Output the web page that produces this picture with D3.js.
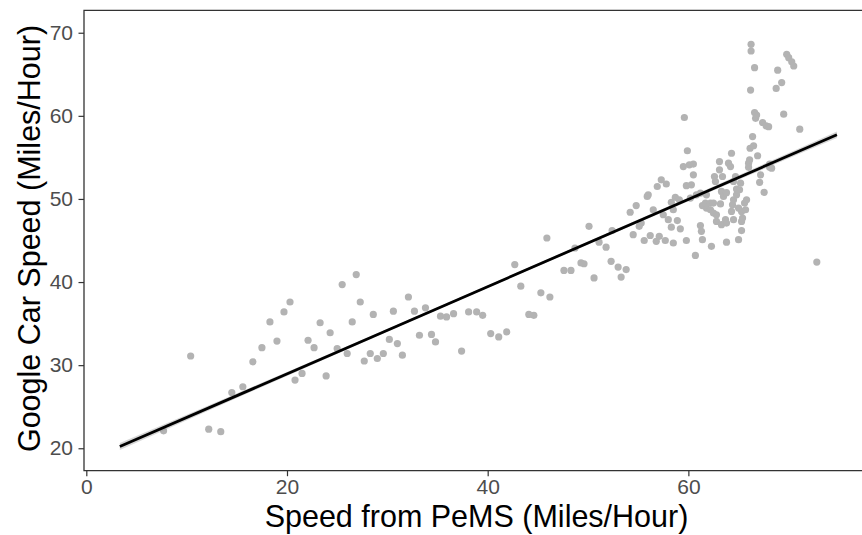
<!DOCTYPE html>
<html>
<head>
<meta charset="utf-8">
<script src="https://cdn.jsdelivr.net/npm/d3@7/dist/d3.min.js"></script>
<style>
  html, body { margin: 0; padding: 0; background: #ffffff; }
  svg { display: block; }
  text { font-family: "Liberation Sans", Arial, Helvetica, sans-serif; }
</style>
</head>
<body>
<svg id="chart" width="862" height="535"></svg>
<script>
// PeMS loop-detector speed vs. speed measured by the Google car (mph)
const pemsSpeed = [
  7.7, 10.4, 12.2, 13.4, 14.5, 15.6, 16.6, 17.5, 18.3, 19.0,
  19.7, 20.3, 20.8, 21.5, 22.1, 22.7, 23.3, 23.9, 24.3, 25.0,
  25.5, 26.0, 26.5, 26.9, 27.3, 27.7, 28.3, 28.6, 29.0, 29.6,
  30.2, 30.6, 31.0, 31.5, 32.1, 32.7, 33.2, 33.8, 34.4, 34.8,
  35.3, 35.9, 36.6, 37.4, 38.1, 38.9, 39.5, 40.3, 41.1, 41.9,
  42.7, 43.3, 44.1, 44.6, 45.3, 45.9, 46.2,
  47.6, 48.3, 48.7, 49.3, 49.6, 50.1, 50.6, 51.1, 51.8, 52.3,
  52.4, 53.0, 53.3, 53.8, 54.2, 54.5, 54.8, 55.1, 55.3, 55.6,
  55.9, 56.0, 56.2, 56.5, 56.8, 56.9, 57.1, 57.3, 57.5, 57.7,
  57.8, 58.0, 58.3, 58.3, 58.5, 58.5, 58.7, 58.9, 59.1, 59.2,
  59.5, 59.6, 59.8, 59.8, 59.9, 60.1, 60.2, 60.3, 60.5, 60.5,
  60.7, 60.8,
  61.2, 61.3, 61.4, 61.4, 61.2, 61.8, 61.8, 61.7, 62.2, 62.5,
  62.2, 62.5, 62.3, 62.6, 62.7, 62.8, 62.8, 63.1, 63.1, 63.4,
  63.3, 63.5, 63.2, 63.3, 63.7, 63.8, 63.8, 63.8, 64.0, 64.2,
  64.3, 64.3, 64.4, 64.5, 64.5, 64.5, 64.7, 64.8, 64.8, 65.0,
  65.0, 65.1, 65.2, 65.3, 65.3, 65.4, 65.3, 65.6, 65.7, 65.8,
  66.0, 66.1, 66.0, 66.15, 66.5, 66.4, 66.7, 66.8, 66.6, 66.2,
  66.6, 66.25, 66.25, 66.9, 67.1, 67.2, 67.55, 67.4, 67.75, 68.0,
  68.1, 68.1, 68.3, 68.75, 68.9, 69.3, 69.5, 69.8, 70.0, 70.3,
  70.5, 71.1, 72.8
];
const googleSpeed = [
  22.1, 31.1, 22.3, 22.0, 26.7, 27.4, 30.4, 32.1, 35.2, 32.9,
  36.4, 37.6, 28.2, 29.0, 33.0, 32.1, 35.1, 28.7, 33.9, 32.0,
  39.7, 31.4, 35.2, 40.9, 37.6, 30.5, 31.4, 36.1, 30.8, 31.4,
  33.1, 36.5, 32.6, 31.2, 38.2, 36.5, 33.6, 36.9, 33.7, 32.8,
  35.9, 35.8, 36.2, 31.7, 36.4, 36.4, 36.0, 33.8, 33.4, 34.0,
  42.1, 39.5, 36.1, 36.0, 38.7, 45.3, 38.2,
  41.4, 41.4, 44.1, 42.3, 42.2, 46.7, 40.5, 44.8, 44.2, 42.5,
  46.2, 41.8, 40.6, 41.5, 48.4, 45.7, 49.2, 46.7, 47.1, 45.0,
  50.3, 50.5, 45.6, 48.7, 44.9, 51.5, 45.5, 52.3, 48.1, 45.0,
  51.8, 47.5, 46.6, 49.6, 44.7, 48.7, 50.2, 47.4, 49.9, 46.4,
  53.9, 59.8, 51.6, 45.0, 55.8, 54.1, 50.1, 51.7, 54.2, 52.9,
  43.2, 50.5,
  46.8, 46.1, 45.1, 49.2, 50.7, 50.5, 48.9, 49.5, 49.5, 49.5,
  48.7, 48.3, 44.3, 52.7, 52.1, 47.3, 48.1, 54.5, 53.5, 52.7,
  50.9, 50.3, 49.4, 46.9, 47.5, 47.1, 44.8, 50.75, 54.3, 53.9,
  55.5, 48.5, 49.3, 47.5, 49.9, 52.1, 52.7, 51.2, 50.5, 45.1,
  48.9, 51.1, 51.9, 48.5, 47.3, 47.7, 46.2, 49.5, 48.7, 49.9,
  54.3, 54.7, 53.8, 56.1, 56.4, 57.5, 59.7, 60.1, 60.4, 63.1,
  65.8, 67.8, 68.6, 55.2, 52.0, 52.9, 50.8, 59.2, 58.8, 58.7,
  53.8, 54.2, 53.7, 63.3, 65.5, 64.0, 60.2, 67.4, 67.0, 66.5,
  66.0, 58.4, 42.4
];

// Linear fit (lm) over the observed PeMS range, with its narrow confidence band
const fitCoef = [18.45, 0.525];          // intercept, slope
const fitRange = [3.34, 74.8];           // x extent of the fitted line
const bandX = [3.34, 20, 40, 60, 74.8];  // confidence band half-widths (mph)
const bandHalf = [0.42, 0.24, 0.15, 0.22, 0.4];

const xTicks = [0, 20, 40, 60];
const yTicks = [20, 30, 40, 50, 60, 70];
const xTitle = "Speed from PeMS (Miles/Hour)";
const yTitle = "Google Car Speed (Miles/Hour)";

const panel = { left: 84, top: 10.3, right: 873, bottom: 470.7 };
const svg = d3.select("#chart");

const x = d3.scaleLinear().domain([-0.23, 78.4]).range([panel.left, panel.right]);
const y = d3.scaleLinear().domain([17.3, 72.7]).range([panel.bottom, panel.top]);

const points = pemsSpeed.map((v, i) => ({ x: v, y: googleSpeed[i] }));

// points
svg.append("g")
  .selectAll("circle")
  .data(points)
  .join("circle")
  .attr("cx", d => x(d.x))
  .attr("cy", d => y(d.y))
  .attr("r", 3.6)
  .attr("fill", "#b3b3b3");

// confidence band and fitted line
const fitAt = v => fitCoef[0] + fitCoef[1] * v;
const band = bandX.map((v, i) => ({ x: v, lo: fitAt(v) - bandHalf[i], hi: fitAt(v) + bandHalf[i] }));
svg.append("path")
  .datum(band)
  .attr("d", d3.area().curve(d3.curveMonotoneX)
    .x(d => x(d.x)).y0(d => y(d.lo)).y1(d => y(d.hi)))
  .attr("fill", "#999999")
  .attr("opacity", 0.4);

svg.append("path")
  .datum(fitRange.map(v => ({ x: v, y: fitAt(v) })))
  .attr("d", d3.line().x(d => x(d.x)).y(d => y(d.y)))
  .attr("fill", "none")
  .attr("stroke", "#000000")
  .attr("stroke-width", 2.8);

// axes
const xAxis = svg.append("g")
  .attr("transform", `translate(0,${panel.bottom})`)
  .call(d3.axisBottom(x).tickValues(xTicks).tickSize(5.5).tickPadding(3).tickSizeOuter(0));
const yAxis = svg.append("g")
  .attr("transform", `translate(${panel.left},0)`)
  .call(d3.axisLeft(y).tickValues(yTicks).tickSize(5.5).tickPadding(5.5).tickSizeOuter(0));

[xAxis, yAxis].forEach(g => {
  g.select(".domain").remove();
  g.selectAll(".tick line").attr("stroke", "#333333").attr("stroke-width", 1.2);
  g.selectAll(".tick text")
    .attr("fill", "#4d4d4d")
    .style("font-size", "21px")
    .style("font-family", "'Liberation Sans', Arial, sans-serif");
});

// panel frame: left, bottom and top edges
svg.append("path")
  .attr("d", `M${panel.right},${panel.top}H${panel.left}V${panel.bottom}H${panel.right}`)
  .attr("fill", "none")
  .attr("stroke", "#333333")
  .attr("stroke-width", 1.3);

// axis titles
svg.append("text")
  .attr("x", (panel.left + panel.right) / 2 - 2)
  .attr("y", 527)
  .attr("text-anchor", "middle")
  .style("font-size", "30.5px")
  .attr("fill", "#000000")
  .text(xTitle);

svg.append("text")
  .attr("transform", `translate(39.5,${(panel.top + panel.bottom) / 2 - 2}) rotate(-90)`)
  .attr("text-anchor", "middle")
  .style("font-size", "30.5px")
  .attr("fill", "#000000")
  .text(yTitle);
</script>
</body>
</html>
